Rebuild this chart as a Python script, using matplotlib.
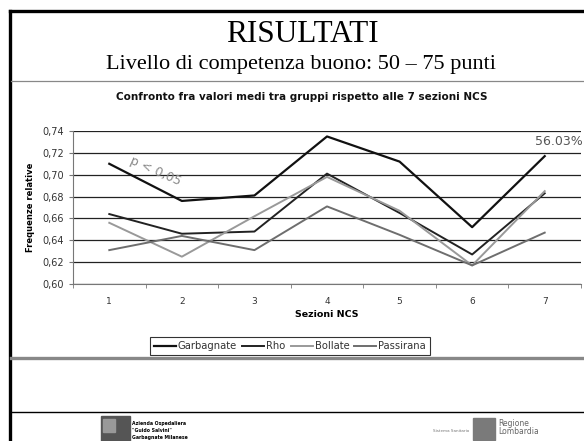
import matplotlib.pyplot as plt
from matplotlib.lines import Line2D
from matplotlib.patches import Rectangle

sezioni = [1, 2, 3, 4, 5, 6, 7]
garbagnate = [0.710, 0.676, 0.681, 0.735, 0.712, 0.652, 0.717]
rho = [0.664, 0.646, 0.648, 0.701, 0.665, 0.627, 0.683]
bollate = [0.656, 0.625, 0.662, 0.698, 0.667, 0.617, 0.685]
passirana = [0.631, 0.644, 0.631, 0.671, 0.645, 0.617, 0.647]
y_ticks = [0.60, 0.62, 0.64, 0.66, 0.68, 0.70, 0.72, 0.74]

W, H = 584, 441


def fx(px):
    return px / W


def fy(py):
    return 1 - py / H


fig = plt.figure(figsize=(W / 100, H / 100), dpi=100)

# cornice della slide
fig.add_artist(Line2D([fx(10), fx(10)], [fy(11), 0], color='black', lw=2.4,
                      solid_capstyle='projecting'))
fig.add_artist(Line2D([fx(10), 1], [fy(11), fy(11)], color='black', lw=2.4,
                      solid_capstyle='projecting'))
fig.add_artist(Line2D([fx(11), 1], [fy(81), fy(81)], color='#888888', lw=0.9))
fig.add_artist(Line2D([fx(11), 1], [fy(358), fy(358)], color='#888888', lw=2.4))
fig.add_artist(Line2D([fx(11), 1], [fy(412), fy(412)], color='black', lw=1.0))

fig.text(fx(302), fy(35), 'RISULTATI', family='Liberation Serif', fontsize=22.5,
         ha='center', va='center')
fig.text(fx(301), fy(64), 'Livello di competenza buono: 50 – 75 punti',
         family='Liberation Serif', fontsize=16, ha='center', va='center')
fig.text(fx(302), fy(97), 'Confronto fra valori medi tra gruppi rispetto alle 7 sezioni NCS',
         fontsize=7.5, fontweight='bold', ha='center', va='center', color='#111111')

ax = fig.add_axes([fx(73), fy(284), fx(581 - 73), (284 - 131) / H])
ax.plot(sezioni, garbagnate, color='#111111', lw=1.6, label='Garbagnate')
ax.plot(sezioni, rho, color='#222222', lw=1.4, label='Rho')
ax.plot(sezioni, bollate, color='#999999', lw=1.4, label='Bollate')
ax.plot(sezioni, passirana, color='#6e6e6e', lw=1.4, label='Passirana')

ax.set_xlim(0.5, 7.5)
ax.set_ylim(0.60, 0.74)
ax.set_yticks(y_ticks)
ax.set_yticklabels([f'{v:.2f}'.replace('.', ',') for v in y_ticks])
ax.set_xticks(sezioni)
ax.set_xticks([x + 0.5 for x in range(8)], minor=True)
ax.tick_params(axis='x', which='major', length=0, pad=9, labelsize=6.5, labelcolor='#333333')
ax.tick_params(axis='x', which='minor', length=3, color='#777777', direction='out')
ax.tick_params(axis='y', length=3, color='#777777', labelsize=7, labelcolor='#333333')
ax.yaxis.grid(True, color='#222222', lw=0.9)
ax.set_axisbelow(True)
for s in ['top', 'right']:
    ax.spines[s].set_visible(False)
ax.spines['left'].set_color('#777777')
ax.spines['bottom'].set_color('#777777')
ax.set_xlabel('Sezioni NCS', fontsize=6.8, fontweight='bold', labelpad=3)
ax.set_ylabel('Frequenze relative', fontsize=6, fontweight='bold', labelpad=5)

ax.text(1.63, 0.7034, 'p < 0,05', fontsize=9, color='#888888',
        rotation=-24, ha='center', va='center')
ax.text(7.53, 0.730, '56.03%', fontsize=9, color='#555555', ha='right', va='center',
        clip_on=False)

leg = ax.legend(loc='center', bbox_to_anchor=(fx(290), fy(346)),
                bbox_transform=fig.transFigure, ncol=4, fontsize=7.2,
                frameon=True, fancybox=False, edgecolor='black', handlelength=2.2,
                handletextpad=0.2, columnspacing=0.5, borderpad=0.4)
leg.get_frame().set_linewidth(0.8)
for t in leg.get_texts():
    t.set_color('#333333')

# loghi in basso
fig.add_artist(Rectangle((fx(101), 0), fx(29), fy(416), color='#555555'))
fig.add_artist(Rectangle((fx(103), fy(432)), fx(12), fy(419) - fy(432), color='#999999'))
fig.text(fx(132), fy(423), 'Azienda Ospedaliera', fontsize=3.3, fontweight='bold', va='center')
fig.text(fx(132), fy(430), '"Guido Salvini"', fontsize=3.3, fontweight='bold', va='center')
fig.text(fx(132), fy(437), 'Garbagnate Milanese', fontsize=3.3, fontweight='bold', va='center')
fig.text(fx(469), fy(431), 'Sistema Sanitario', fontsize=3, color='#777777', ha='right', va='center')
fig.add_artist(Rectangle((fx(473), fy(440)), fx(22), fy(418) - fy(440), color='#7a7a7a'))
fig.text(fx(498), fy(423), 'Regione', fontsize=5.5, color='#666666', va='center')
fig.text(fx(498), fy(432), 'Lombardia', fontsize=5.5, color='#666666', va='center')

fig.savefig('out.png', dpi=100, facecolor='white')
